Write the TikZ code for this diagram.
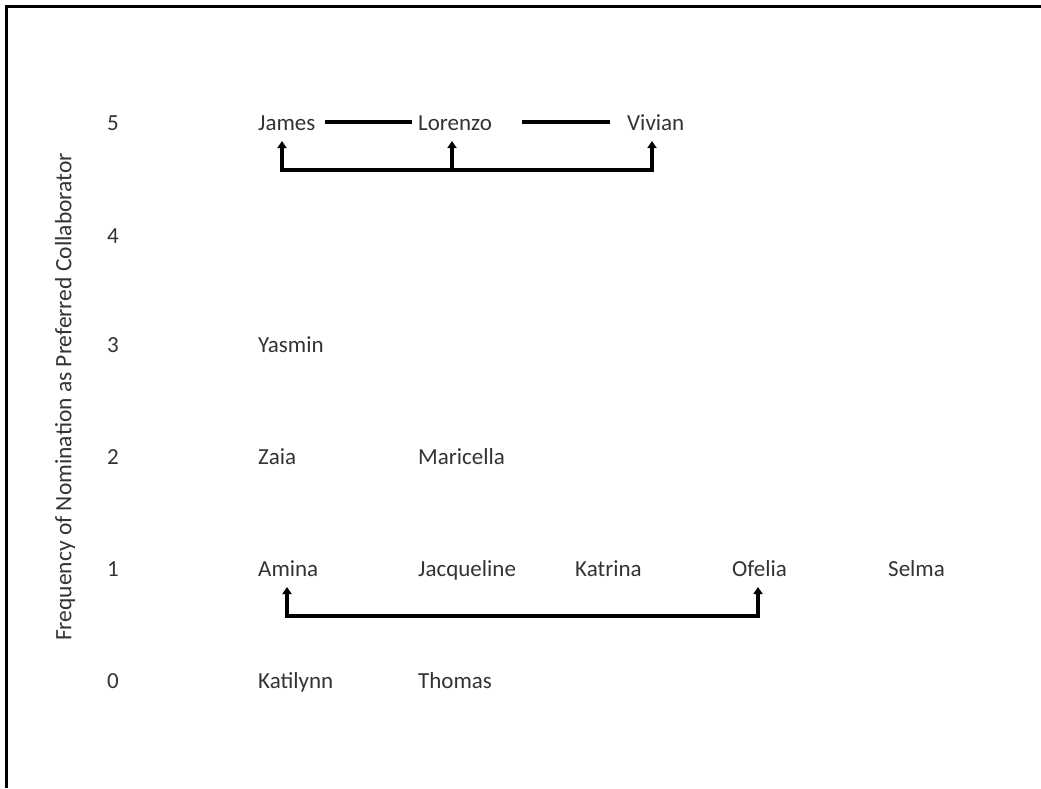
\documentclass[tikz,border=0pt]{standalone}
\usepackage{fontspec}
\setmainfont{Carlito}
\usetikzlibrary{arrows.meta}
\begin{document}
\begin{tikzpicture}[x=1pt,y=-1pt,
  lbl/.style={anchor=base west,inner sep=0pt,font=\fontsize{23}{27}\selectfont,text=black!80},
  num/.style={anchor=base,inner sep=0pt,font=\fontsize{23}{27}\selectfont,text=black!80},
  bar/.style={line width=3.2pt,line cap=butt},
  up/.style={line width=3.2pt,-{Triangle[width=9pt,length=7pt]}}]
\useasboundingbox (0,0) rectangle (1041,788);
\draw[line width=3pt] (6.5,788) -- (6.5,6.5) -- (1041,6.5);
% axis label
\node[anchor=center,inner sep=0pt,font=\fontsize{23.5}{27}\selectfont,text=black!80,rotate=90] (axis) at (65,397) {Frequency of Nomination as Preferred Collaborator};
% numbers
\node[num] (n5) at (113,130.5) {5};
\node[num] (n4) at (113,243.5) {4};
\node[num] (n3) at (113,352.5) {3};
\node[num] (n2) at (113,464.5) {2};
\node[num] (n1) at (113,576.5) {1};
\node[num] (n0) at (113,688.5) {0};
% names
\node[lbl] (James) at (258,130.5) {James};
\node[lbl] (Lorenzo) at (418,130.5) {Lorenzo};
\node[lbl] (Vivian) at (627,130.5) {Vivian};
\node[lbl] (Yasmin) at (258,352.5) {Yasmin};
\node[lbl] (Zaia) at (258,464.5) {Zaia};
\node[lbl] (Maricella) at (418,464.5) {Maricella};
\node[lbl] (Amina) at (258,576.5) {Amina};
\node[lbl] (Jacqueline) at (418,576.5) {Jacqueline};
\node[lbl] (Katrina) at (575,576.5) {Katrina};
\node[lbl] (Ofelia) at (732,576.5) {Ofelia};
\node[lbl] (Selma) at (888,576.5) {Selma};
\node[lbl] (Katilynn) at (258,688.5) {Katilynn};
\node[lbl] (Thomas) at (418,688.5) {Thomas};
% top connectors
\coordinate (lJ) at (325,122);
\coordinate (lL) at (412,122);
\coordinate (lL2) at (522,122);
\coordinate (lV) at (610,122);
\draw[bar] (lJ) -- (lL);
\draw[bar] (lL2) -- (lV);
\coordinate (bJ) at (282,170);
\coordinate (bL) at (452,170);
\coordinate (bV) at (652,170);
\coordinate (tJ) at (282,141);
\coordinate (tL) at (452,141);
\coordinate (tV) at (652,141);
\draw[bar] ([xshift=-1.6pt]bJ) -- ([xshift=1.6pt]bV);
\draw[up] ([yshift=1.6pt]bJ) -- (tJ);
\draw[up] (bL) -- (tL);
\draw[up] ([yshift=1.6pt]bV) -- (tV);
% bottom connector
\coordinate (bA) at (287,616);
\coordinate (bO) at (758,616);
\coordinate (tA) at (287,587);
\coordinate (tO) at (758,587);
\draw[bar] ([xshift=-1.6pt]bA) -- ([xshift=1.6pt]bO);
\draw[up] ([yshift=1.6pt]bA) -- (tA);
\draw[up] ([yshift=1.6pt]bO) -- (tO);
\end{tikzpicture}
\end{document}
